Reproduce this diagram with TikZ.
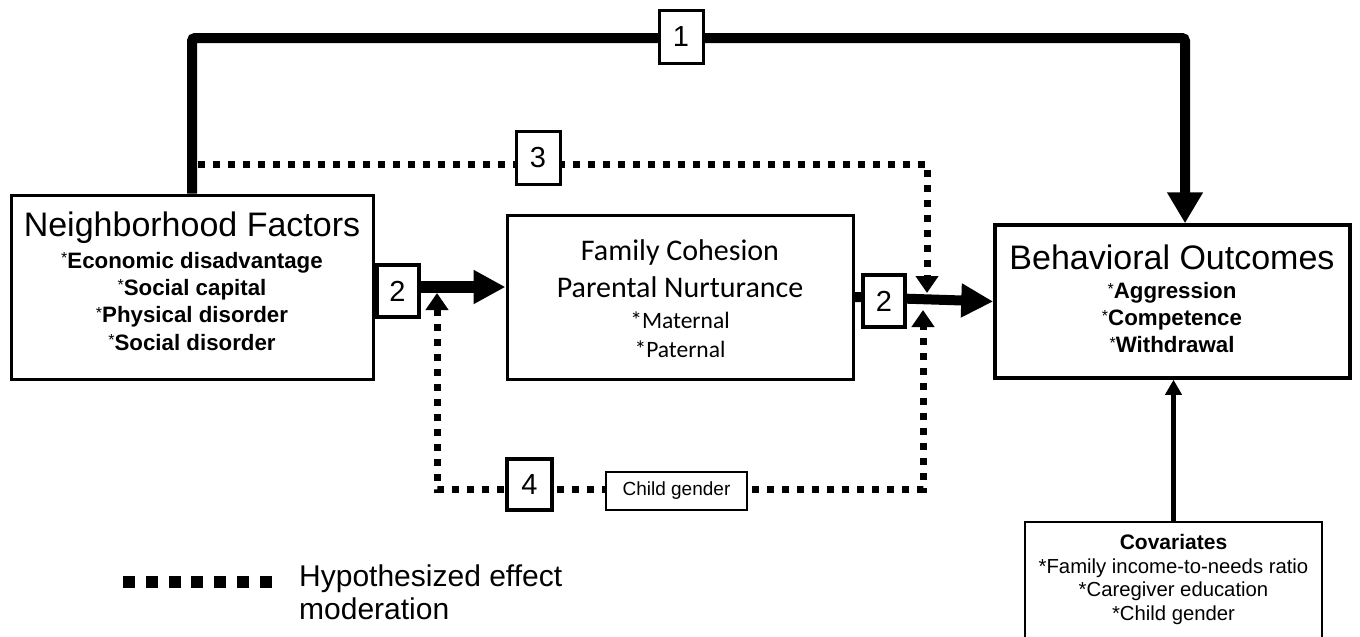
\documentclass[tikz,border=0pt]{standalone}
\usepackage{fontspec}
\setmainfont{Liberation Sans}
\newfontfamily\carlito{Carlito}
\usetikzlibrary{arrows.meta}
\newcommand\myfs[2]{\fontsize{#1}{#2}\selectfont}
\newcommand\myast{\raisebox{4.5pt}{\mdseries\myfs{16}{16}*}}
\begin{document}
\begin{tikzpicture}[x=1pt,y=-1pt,
  box/.style={draw, line width=3pt, fill=white, inner sep=0pt},
  numbox/.style={draw, line width=#1, fill=white, inner sep=0pt, minimum width=44pt, minimum height=53pt, font=\myfs{29}{29}},
  txt/.style={inner sep=0pt, align=center, anchor=north},
  mainln/.style={line width=10pt, rounded corners=3pt, -{Triangle[length=31pt,width=34pt]}},
  bigarr/.style={line width=#1, -{Triangle[length=32pt,width=32pt]}},
  dotln/.style={line width=7pt, dash pattern=on 7pt off 8pt},
  dottip/.style={-{Triangle[length=17pt,width=22pt]}}
]
\useasboundingbox (0,0) rectangle (1360,637);
\fill[white] (0,0) rectangle (1360,637);

% boxes
\node[box, minimum width=362pt, minimum height=184pt] (nb) at (192,287) {};
\node[box, minimum width=346pt, minimum height=164pt] (fam) at (680,297) {};
\node[box, line width=3.5pt, minimum width=355pt, minimum height=153pt] (bo) at (1172.5,301.5) {};
\node[box, line width=1.3pt, minimum width=297pt, minimum height=119pt] (cov) at (1173.5,581.5) {};

% texts
\node[txt, font=\myfs{22.3}{27.3}\bfseries] (nbt) at (192,212)
  {{\mdseries\myfs{34}{34}Neighborhood Factors}\\[4pt]
   \myast Economic disadvantage\\
   \myast Social capital\\
   \myast Physical disorder\\
   \myast Social disorder};
\node[txt, font=\carlito\myfs{23.5}{29}] (famt) at (680,239)
  {{\myfs{30}{30}Family Cohesion}\\[8pt]
   {\myfs{30}{30}Parental Nurturance}\\[2pt]
   *Maternal\\
   *Paternal};
\node[txt, font=\myfs{22.3}{27}\bfseries] (bot) at (1172,245)
  {{\mdseries\myfs{34}{34}Behavioral Outcomes}\\[2pt]
   \myast Aggression\\
   \myast Competence\\
   \myast Withdrawal};
\node[txt, font=\myfs{20.3}{23.5}] (covt) at (1173.5,534.5)
  {{\bfseries\myfs{21}{21}Covariates}\\
   *Family income-to-needs ratio\\
   *Caregiver education\\
   *Child gender};

% path 1
\coordinate (t1) at (192,38);
\coordinate (t2) at (1185,38);
\draw[mainln] (nb.north) -- (t1) -- (t2) -- (t2 |- bo.north);

% path 3
\coordinate (d3s) at (198,164);
\coordinate (d3c) at (927,164);
\coordinate (tipA) at (927,293);
\draw[dotln, dottip] (d3s) -- (d3c) -- (tipA);

% path 2
\draw[bigarr=12pt] (nb.east) -- (fam.west |- nb.east);
\draw[bigarr=10pt] (fam.east) -- (bo.west);

% path 4
\coordinate (tipB) at (437,293);
\coordinate (c4l) at (437,489);
\coordinate (c4r) at (923,489);
\coordinate (tipC) at (923,310);
\draw[dotln, {Triangle[length=17pt,width=22pt]}-{Triangle[length=17pt,width=22pt]}] (tipB) -- (c4l) -- (c4r) -- (tipC);

% covariates
\draw[line width=5pt, -{Triangle[length=15pt,width=16pt]}] (cov.north) -- (cov.north |- bo.south);

% number boxes
\node[numbox=3pt] (n1) at (681,37) {1};
\node[numbox=3pt] (n3) at (538,158) {3};
\node[numbox=4pt, minimum width=42pt, minimum height=52pt] (n2a) at (397.5,291) {2};
\node[numbox=4pt, minimum width=42pt, minimum height=52pt] (n2b) at (884,301) {2};
\node[numbox=4pt, minimum width=45pt, minimum height=51pt] (n4) at (529.5,484.5) {4};
\node[box, line width=1.2pt, minimum width=141pt, minimum height=38pt, font=\myfs{19}{19}] (cg) at (676.5,491) {Child gender};

% legend
\coordinate (lg1) at (123,582);
\coordinate (lg2) at (272,582);
\draw[line width=12pt, dash pattern=on 12pt off 10.83pt] (lg1) -- (lg2);
\node[inner sep=0pt, align=left, anchor=north west, font=\myfs{30}{33}] (leg) at (299,565)
  {Hypothesized effect\\moderation};
\end{tikzpicture}
\end{document}
